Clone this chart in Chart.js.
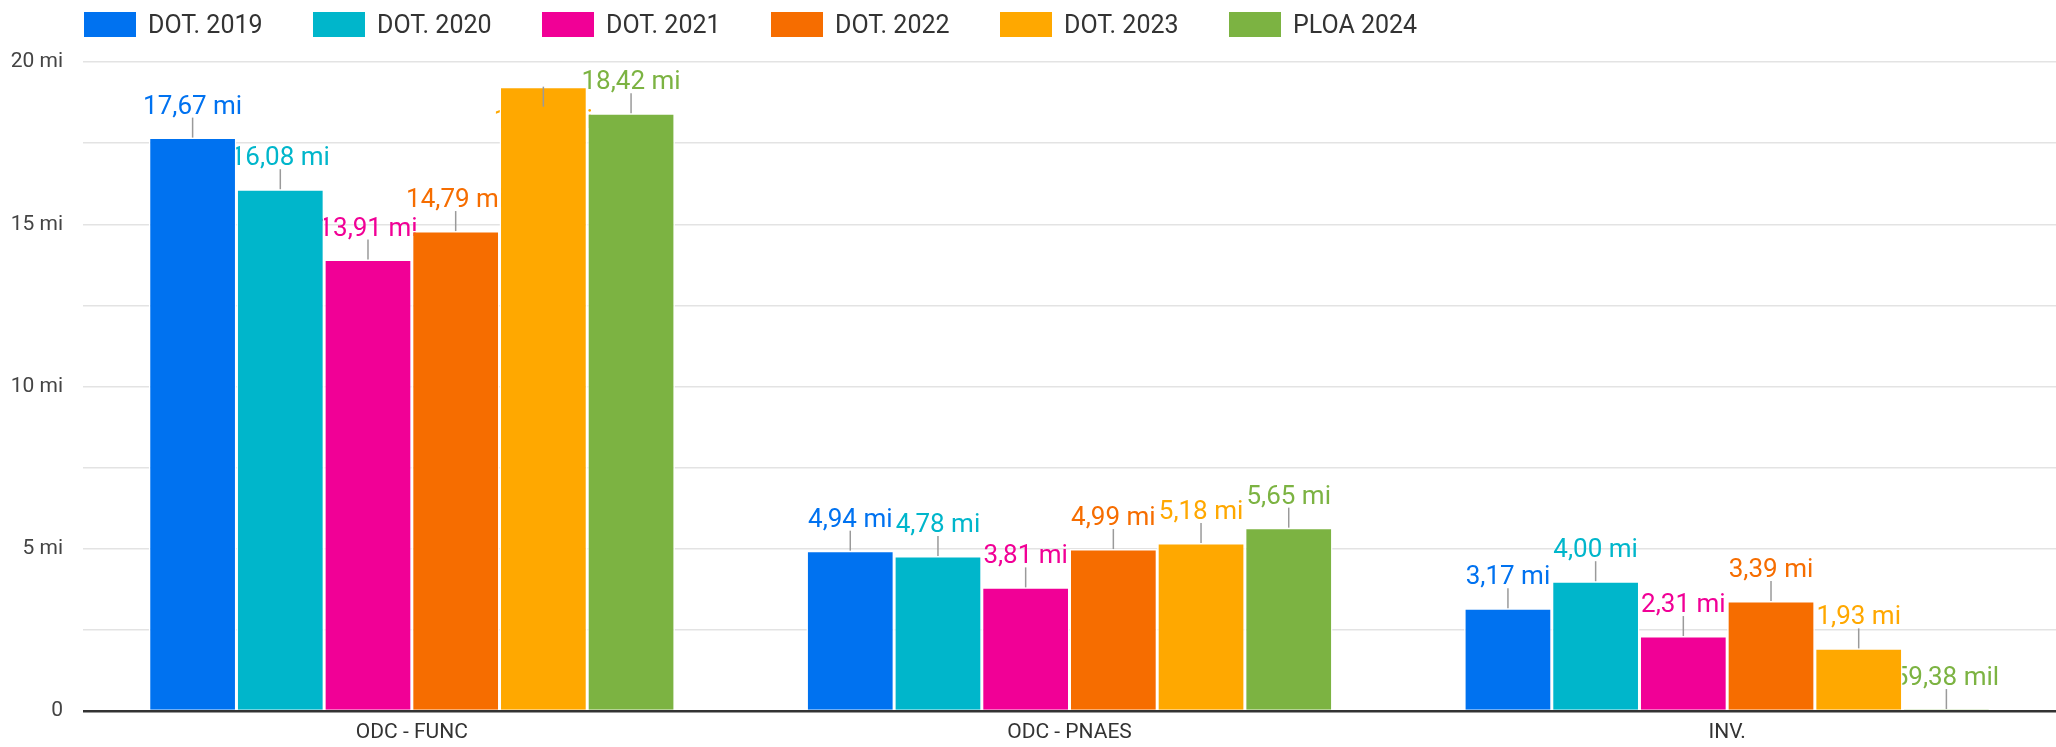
<!DOCTYPE html>
<html>
<head>
<meta charset="utf-8">
<script src="https://cdn.jsdelivr.net/npm/chart.js@4.4.1/dist/chart.umd.min.js"></script>
<style>
  body { margin: 0; background: #fff; font-family: Roboto, sans-serif; }
  #wrap { position: relative; width: 2056px; height: 747px; }
  #legend { position: absolute; left: 84px; top: 10px; display: flex; }
  .item { display: flex; align-items: center; width: 229px; font-size: 25px; color: #333; white-space: nowrap; }
  .box { width: 52px; height: 25px; margin-right: 12px; }
</style>
</head>
<body>
<div id="wrap">
  <canvas id="chart" width="2056" height="747"></canvas>
  <div id="legend"></div>
</div>
<script>
// dados (em milhões)
const categorias = ['ODC - FUNC', 'ODC - PNAES', 'INV.'];
const series = ['DOT. 2019', 'DOT. 2020', 'DOT. 2021', 'DOT. 2022', 'DOT. 2023', 'PLOA 2024'];
const dot2019 = [17.67, 4.94, 3.17];
const dot2020 = [16.08, 4.78, 4.00];
const dot2021 = [13.91, 3.81, 2.31];
const dot2022 = [14.79, 4.99, 3.39];
const dot2023 = [19.24, 5.18, 1.93];
const ploa2024 = [18.42, 5.65, 0.05938];
const rotulosY = { 0: '0', 5: '5 mi', 10: '10 mi', 15: '15 mi', 20: '20 mi' };

const cores = ['#0072f0', '#00b6cb', '#f10096', '#f66d00', '#ffa800', '#7cb342'];
const valores = [dot2019, dot2020, dot2021, dot2022, dot2023, ploa2024];

// legenda em HTML
const legendEl = document.getElementById('legend');
series.forEach((nome, i) => {
  const item = document.createElement('div');
  item.className = 'item';
  item.innerHTML = `<span class="box" style="background:${cores[i]}"></span><span>${nome}</span>`;
  legendEl.appendChild(item);
});

function formatarValor(v) {
  if (v >= 1) return v.toFixed(2).replace('.', ',') + ' mi';
  return (v * 1000).toFixed(2).replace('.', ',') + ' mil';
}

// rótulos com linha guia
function desenharRotulos(chart, etapa) {
  const ctx = chart.ctx;
  const area = chart.chartArea;
  ctx.save();
  chart.data.datasets.forEach((ds, i) => {
    const meta = chart.getDatasetMeta(i);
    meta.data.forEach((bar, j) => {
      const x = bar.x;
      const y = bar.y;
      const abaixo = (y - 24 - 19) < area.top; // sem espaço em cima: vai para baixo
      if (etapa === 'linha') {
        ctx.strokeStyle = '#9a9a9a';
        ctx.lineWidth = 1.5;
        ctx.beginPath();
        ctx.moveTo(x, y);
        ctx.lineTo(x, abaixo ? y + 20 : y - 20);
        ctx.stroke();
      } else {
        ctx.fillStyle = cores[i];
        ctx.font = '26px Roboto';
        ctx.textAlign = 'center';
        ctx.textBaseline = abaixo ? 'top' : 'alphabetic';
        ctx.fillText(formatarValor(ds.data[j]), x, abaixo ? y + 22 : y - 24);
      }
    });
  });
  ctx.restore();
}

const pluginRotulos = {
  id: 'rotulos',
  beforeDatasetsDraw(chart) { desenharRotulos(chart, 'texto'); },
  afterDatasetsDraw(chart) { desenharRotulos(chart, 'linha'); }
};

const ctx = document.getElementById('chart').getContext('2d');
new Chart(ctx, {
  type: 'bar',
  data: {
    labels: categorias,
    datasets: series.map((nome, i) => ({
      label: nome,
      data: valores[i],
      backgroundColor: cores[i],
      borderColor: '#ffffff',
      borderWidth: 1.5,
      categoryPercentage: 0.8,
      barPercentage: 1.0
    }))
  },
  options: {
    responsive: false,
    animation: false,
    devicePixelRatio: 1,
    layout: { padding: { top: 62, right: 0, left: 0, bottom: 0 } },
    plugins: {
      legend: { display: false },
      tooltip: { enabled: false }
    },
    scales: {
      x: {
        grid: { display: false, drawTicks: false },
        border: { display: false },
        ticks: { color: '#333', font: { family: 'Roboto', size: 21 }, padding: 9 },
        afterFit(scale) { scale.height = 36; }
      },
      y: {
        min: 0,
        max: 20,
        border: { display: false },
        grid: {
          drawTicks: false,
          color: c => c.tick.value === 0 ? '#333' : '#e3e3e3',
          lineWidth: c => c.tick.value === 0 ? 2.5 : 1.5
        },
        ticks: {
          stepSize: 2.5,
          padding: 20,
          color: '#444',
          font: { family: 'Roboto', size: 21 },
          callback: v => rotulosY[v] !== undefined ? rotulosY[v] : ''
        },
        afterFit(scale) { scale.width = 83; }
      }
    }
  },
  plugins: [pluginRotulos]
});
</script>
</body>
</html>
